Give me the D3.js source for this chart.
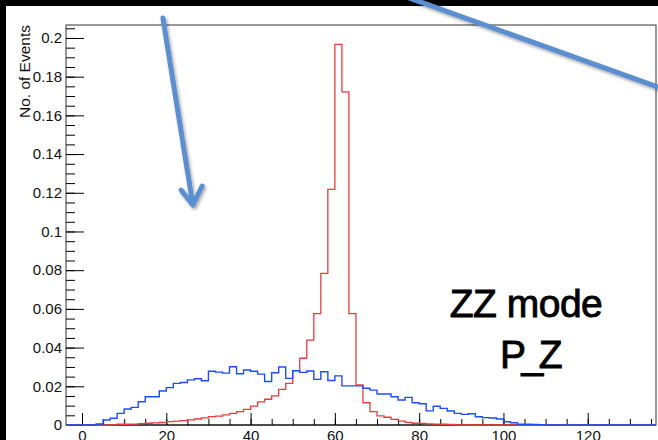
<!DOCTYPE html>
<html>
<head>
<meta charset="utf-8">
<script src="https://cdn.jsdelivr.net/npm/d3@7"></script>
<style>
  body { margin: 0; background: #000; }
  svg { display: block; }
  .axis text { font-family: "Liberation Sans", Arial, Helvetica, sans-serif; font-size: 15px; fill: #111; }
  .axis line { stroke: #000; stroke-width: 1; }
  .axis path { display: none; }
</style>
</head>
<body>
<script>
// binning of both histograms: width 5/3, first edge at 0
const binStart = 0;
const binWidth = 5 / 3;

// P_Z, blue histogram (normalised)
const blueValues = [
  0, 0, 0.0005, 0.0026, 0.0035, 0.006, 0.0083, 0.0091, 0.012, 0.0146,
  0.0146, 0.0176, 0.0193, 0.0215, 0.022, 0.0233, 0.0239, 0.0229, 0.0278, 0.0273,
  0.0268, 0.0301, 0.0265, 0.0284, 0.0278, 0.0263, 0.0225, 0.027, 0.03, 0.0241,
  0.0281, 0.0272, 0.0279, 0.0236, 0.0275, 0.023, 0.0254, 0.0202, 0.0202, 0.0202,
  0.019, 0.018, 0.016, 0.016, 0.0146, 0.0129, 0.0143, 0.0115, 0.011, 0.0073,
  0.0097, 0.0086, 0.0072, 0.006, 0.0055, 0.0058, 0.0043, 0.0038, 0.0036, 0.0031,
  0.0017, 0.0012, 0.0004, 0.0004, 0.0003, 0.0002
];

// P_Z, red histogram (normalised)
const redValues = [
  0, 0, 0, 0, 0, 0.0004, 0.0004, 0.0005, 0.0007, 0.0009,
  0.0011, 0.0013, 0.0017, 0.002, 0.0023, 0.0026, 0.0031, 0.0037, 0.0043, 0.0046,
  0.0052, 0.006, 0.0069, 0.0081, 0.0098, 0.012, 0.0133, 0.0151, 0.0184, 0.0215,
  0.028, 0.0345, 0.0439, 0.0576, 0.0784, 0.1218, 0.1967, 0.1721, 0.0576, 0.0207,
  0.0115, 0.0069, 0.0047, 0.004, 0.0029, 0.002, 0.0014, 0.0009, 0.0008, 0.0006,
  0.0005, 0.0004, 0.0003
];

const xTickValues = [0, 20, 40, 60, 80, 100, 120];
const yTickValues = [0, 0.02, 0.04, 0.06, 0.08, 0.1, 0.12, 0.14, 0.16, 0.18, 0.2];
const yTickLabels = ["0", "0.02", "0.04", "0.06", "0.08", "0.1", "0.12", "0.14", "0.16", "0.18", "0.2"];
const yTitle = "No. of Events";
const noteLines = ["ZZ mode", "P_Z"];

// slide annotation arrows, in data units
const arrowDown = [[19.2, 0.2103], [26.3, 0.1137]];
const arrowHead = [[23.5, 0.1214], [26.3, 0.1137], [28.5, 0.1235]];
const arrowLong = [[76.6, 0.2215], [137.2, 0.1742]];

let width = 658;
let height = 440;
let margin = {top: 25, right: 2, bottom: 15, left: 66};

let svg = d3.select("body").append("svg")
  .attr("width", width)
  .attr("height", height);

// white slide area
svg.append("rect")
  .attr("x", 6).attr("y", 6)
  .attr("width", width - 6).attr("height", height - 6)
  .attr("fill", "#fff");

let x = d3.scaleLinear()
  .domain([-3.8, 136.2])
  .range([margin.left, width - margin.right]);

let y = d3.scaleLinear()
  .domain([0, 0.2067])
  .range([height - margin.bottom, margin.top]);

// frame
svg.append("rect")
  .attr("x", x.range()[0]).attr("y", y.range()[1])
  .attr("width", x.range()[1] - x.range()[0])
  .attr("height", y.range()[0] - y.range()[1])
  .attr("fill", "none")
  .attr("stroke", "#333")
  .attr("stroke-width", 1);

// y axis, ROOT style ticks pointing inside
svg.append("g")
  .attr("class", "axis")
  .attr("transform", "translate(" + x.range()[0] + ",0)")
  .call(d3.axisLeft(y).tickValues(d3.range(0, 0.2051, 0.005)).tickSizeInner(-9).tickSizeOuter(0).tickFormat(""));
svg.append("g")
  .attr("class", "axis")
  .attr("transform", "translate(" + x.range()[0] + ",0)")
  .call(d3.axisLeft(y).tickValues(yTickValues).tickSizeInner(-18).tickSizeOuter(0).tickPadding(4)
    .tickFormat(function(d, i) { return yTickLabels[i]; }));

// x axis
svg.append("g")
  .attr("class", "axis")
  .attr("transform", "translate(0," + y.range()[0] + ")")
  .call(d3.axisBottom(x).tickValues(d3.range(0, 136, 5)).tickSizeInner(-6).tickSizeOuter(0).tickFormat(""));
svg.append("g")
  .attr("class", "axis")
  .attr("transform", "translate(0," + y.range()[0] + ")")
  .call(d3.axisBottom(x).tickValues(xTickValues).tickSizeInner(-12).tickSizeOuter(0).tickPadding(5)
    .tickFormat(d3.format("d")));

svg.append("line")
  .attr("x1", x.range()[0]).attr("x2", x.range()[1])
  .attr("y1", y(0)).attr("y2", y(0))
  .attr("stroke", "#000");

svg.append("text")
  .attr("transform", "translate(30," + y.range()[1] + ") rotate(-90)")
  .attr("text-anchor", "end")
  .style("font-family", "'Liberation Sans', Arial, Helvetica, sans-serif")
  .style("font-size", "15.5px")
  .attr("fill", "#111")
  .text(yTitle);

// step outline of a histogram across the whole axis range
function stepPoints(values) {
  let pts = [[x.domain()[0], 0]];
  values.forEach(function(v, i) {
    let lo = binStart + i * binWidth;
    pts.push([lo, v]);
    pts.push([lo + binWidth, v]);
  });
  pts.push([binStart + values.length * binWidth, 0]);
  pts.push([x.domain()[1], 0]);
  return pts;
}

let line = d3.line()
  .x(function(d) { return x(d[0]); })
  .y(function(d) { return y(d[1]); });

let plot = svg.append("g");
plot.append("path")
  .datum(stepPoints(redValues))
  .attr("d", line)
  .attr("fill", "none")
  .attr("stroke", "#f03a3a")
  .attr("stroke-width", 1.3);
plot.append("path")
  .datum(stepPoints(blueValues))
  .attr("d", line)
  .attr("fill", "none")
  .attr("stroke", "#1a4dff")
  .attr("stroke-width", 1.4);

// annotation text (slightly heavier than regular, like the slide font)
svg.selectAll(".note")
  .data(noteLines)
  .enter().append("text")
  .attr("class", "note")
  .attr("x", function(d, i) { return i === 0 ? 526 : 529; })
  .attr("y", function(d, i) { return 317 + i * 51; })
  .attr("text-anchor", "middle")
  .attr("letter-spacing", function(d, i) { return i === 0 ? -0.5 : -4.5; })
  .style("font-family", "'Liberation Sans', Arial, Helvetica, sans-serif")
  .style("font-size", "39px")
  .attr("fill", "#000")
  .attr("stroke", "#000")
  .attr("stroke-width", 0.9)
  .text(function(d) { return d; });

// blue arrows drawn on the slide
let defs = svg.append("defs");
let shadow = defs.append("filter").attr("id", "shadow")
  .attr("x", "-20%").attr("y", "-20%").attr("width", "140%").attr("height", "140%");
shadow.append("feDropShadow")
  .attr("dx", 1.5).attr("dy", 2).attr("stdDeviation", 1.5)
  .attr("flood-color", "#000").attr("flood-opacity", 0.35);

let arrows = svg.append("g")
  .attr("filter", "url(#shadow)")
  .attr("fill", "none")
  .attr("stroke", "#5b8fcf")
  .attr("stroke-width", 5)
  .attr("stroke-linecap", "round")
  .attr("stroke-linejoin", "round");
[arrowDown, arrowHead, arrowLong].forEach(function(a) {
  arrows.append("path").datum(a).attr("d", line);
});
</script>
</body>
</html>
